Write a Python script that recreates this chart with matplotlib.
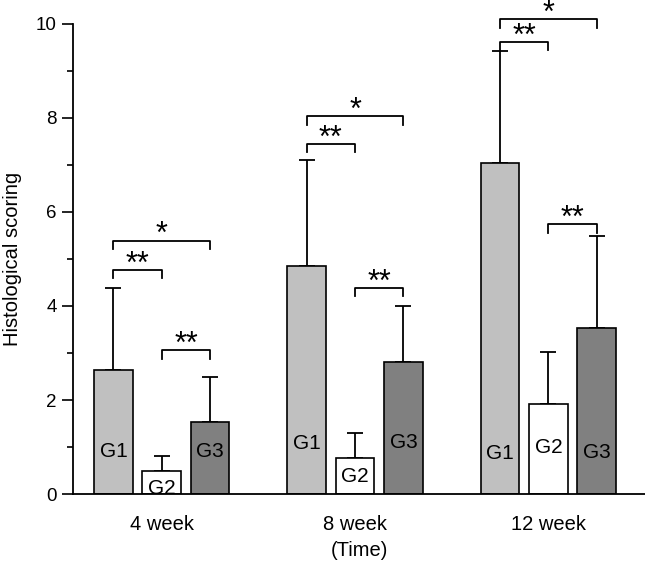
import numpy as np
import matplotlib
matplotlib.use("Agg")
import matplotlib.pyplot as plt
from matplotlib.ticker import MultipleLocator

plt.rcParams['font.family'] = ['Liberation Sans', 'DejaVu Sans']

weeks = ['4 week', '8 week', '12 week']
groups = ['G1', 'G2', 'G3']
colors = ['#c0c0c0', '#ffffff', '#808080']

# mean and upper error (top of the error bar) per group, per week
means = [
    [2.64, 4.86, 7.04],   # G1
    [0.50, 0.76, 1.92],   # G2
    [1.54, 2.80, 3.53],   # G3
]
err_top = [
    [4.38, 7.10, 9.43],
    [0.82, 1.31, 3.02],
    [2.48, 3.99, 5.48],
]
# height where the group name is written inside the bar
label_y = [
    [0.90, 1.08, 0.87],
    [0.13, 0.37, 1.00],
    [0.90, 1.10, 0.89],
]

# significance brackets: (week index, group a, group b, bracket height, stars)
brackets = [
    (0, 0, 1, 4.77, '**'), (0, 0, 2, 5.39, '*'), (0, 1, 2, 3.06, '**'),
    (1, 0, 1, 7.45, '**'), (1, 0, 2, 8.03, '*'), (1, 1, 2, 4.39, '**'),
    (2, 0, 1, 9.62, '**'), (2, 0, 2, 10.10, '*'), (2, 1, 2, 5.74, '**'),
]

fig = plt.figure(figsize=(6.45, 5.66), dpi=100)
ax = fig.add_axes([0.113, 0.127, 0.887, 0.831])

x = np.arange(len(weeks))
width = 0.2
pitch = 0.25

for g in range(3):
    xs = x + (g - 1) * pitch
    m = np.array(means[g])
    up = np.array(err_top[g]) - m
    ax.bar(xs, m, width, color=colors[g], edgecolor='black', linewidth=1.2, zorder=2)
    ax.errorbar(xs, m, yerr=[np.zeros_like(up), up], fmt='none', ecolor='black',
                elinewidth=1.3, capsize=5.5, capthick=1.3, zorder=1)
    for i in range(len(weeks)):
        ax.text(xs[i], label_y[g][i], groups[g], ha='center', va='center', fontsize=15, zorder=3)

drop = 0.18
for w, a, b, h, s in brackets:
    xa = w + (a - 1) * pitch
    xb = w + (b - 1) * pitch
    ax.plot([xa, xa, xb, xb], [h - drop, h, h, h - drop], color='black', lw=1.3, clip_on=False)
    ax.annotate(s, xy=((xa + xb) / 2, h), xytext=(0, -2), textcoords='offset points',
                ha='center', va='baseline', fontsize=22, annotation_clip=False)

ax.set_xlim(-0.46, 2.5)
ax.set_ylim(0, 10)
ax.set_xticks(x)
ax.set_xticklabels(weeks, fontsize=14.5)
ax.tick_params(axis='x', length=0, pad=15)
ax.yaxis.set_major_locator(MultipleLocator(2))
ax.yaxis.set_minor_locator(MultipleLocator(1))
ax.tick_params(axis='y', which='major', length=8, width=1.2, labelsize=13.5, direction='out')
ax.tick_params(axis='y', which='minor', length=4, width=1.2, direction='out')
for side in ['top', 'right']:
    ax.spines[side].set_visible(False)
ax.spines['left'].set_linewidth(1.3)
ax.spines['bottom'].set_linewidth(1.3)
ax.set_ylabel('Histological scoring', fontsize=14.5, labelpad=10)
ax.set_xlabel('(Time)', fontsize=14.5, labelpad=5)

fig.savefig('out.png', dpi=100)
